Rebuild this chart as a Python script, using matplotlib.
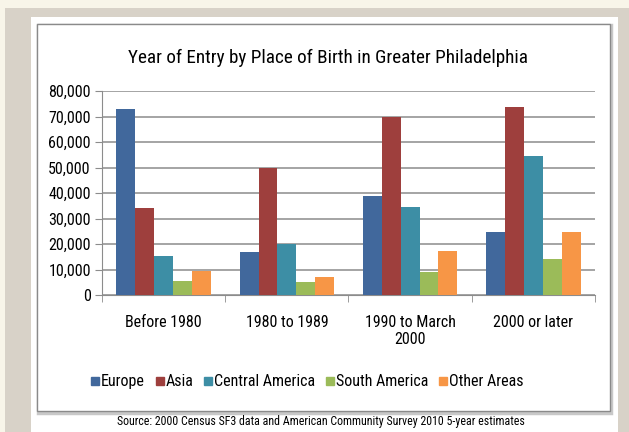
import matplotlib
matplotlib.use("Agg")
import matplotlib.pyplot as plt
from matplotlib.patches import Rectangle
from matplotlib.lines import Line2D
import numpy as np

# Arial Narrow is not around, a condensed sans is the closest
plt.rcParams['font.family'] = ['Roboto Condensed', 'PT Sans Narrow', 'DejaVu Sans']

categories = ["Before 1980", "1980 to 1989", "1990 to March\n2000", "2000 or later"]
series = ["Europe", "Asia", "Central America", "South America", "Other Areas"]
europe = [73000, 17000, 38800, 24800]
asia = [34000, 49700, 69700, 73800]
central_america = [15300, 20200, 34600, 54500]
south_america = [5500, 5000, 9100, 14100]
other_areas = [9500, 7200, 17200, 24800]
values = [europe, asia, central_america, south_america, other_areas]
colors = ['#41689c', '#9e3f3d', '#3d8ea5', '#9bbb59', '#f79646']

fig = plt.figure(figsize=(6.29, 4.32), dpi=100)
fig.patch.set_facecolor('#f8f5e9')

# frame / background layers
fig.patches.append(Rectangle((0.008, 0), 0.992, 0.9815, transform=fig.transFigure,
                             facecolor='#d8d2c8', edgecolor='none', zorder=-3))
fig.patches.append(Rectangle((0.0493, 0), 0.9332, 0.9606, transform=fig.transFigure,
                             facecolor='white', edgecolor='none', zorder=-2))
fig.patches.append(Rectangle((0.0605, 0.045), 0.911, 0.896, transform=fig.transFigure,
                             facecolor='none', edgecolor='#c8c8c8', lw=2.5, zorder=-1))
fig.patches.append(Rectangle((0.0588, 0.0486), 0.911, 0.8954, transform=fig.transFigure,
                             facecolor='white', edgecolor='#8a8a8a', lw=1, zorder=-1))

ax = fig.add_axes([0.162, 0.317, 0.784, 0.472])
ax.set_facecolor('none')

x = np.arange(len(categories))
w = 0.153
for i, (name, vals) in enumerate(zip(series, values)):
    ax.bar(x + (i - 2) * w, vals, w, color=colors[i], label=name, zorder=3)

ax.set_xlim(-0.5, len(categories) - 0.5)
ax.set_ylim(0, 80000)
ax.set_yticks(np.arange(0, 80001, 10000))
ax.set_yticklabels([f"{v:,}" for v in range(0, 80001, 10000)], fontsize=11.5)
ax.yaxis.grid(True, color='#8c8c8c', lw=1.1, zorder=0)
ax.set_xticks(x)
ax.set_xticklabels(categories, fontsize=11.5, linespacing=1.15)
ax.set_xticks(np.arange(-0.5, len(categories), 1), minor=True)
ax.tick_params(axis='x', which='major', length=0, pad=14.5)
ax.tick_params(axis='x', which='minor', length=5, color='#8c8c8c', direction='out')
ax.tick_params(axis='y', length=5, color='#8c8c8c', pad=3)
for s in ['top', 'right']:
    ax.spines[s].set_visible(False)
for s in ['left', 'bottom']:
    ax.spines[s].set_color('#8c8c8c')

fig.text(0.522, 0.866, "Year of Entry by Place of Birth in Greater Philadelphia",
         ha='center', va='center', fontsize=13.8)

handles = [Line2D([], [], marker='s', ls='none', color=c, markersize=6) for c in colors]
fig.legend(handles, series, loc='center', bbox_to_anchor=(0.488, 0.116), ncol=5,
           frameon=False, fontsize=11.5, handlelength=0.6, handletextpad=0.05,
           columnspacing=0.65)

fig.text(0.51, 0.025,
         "Source: 2000 Census SF3 data and American Community Survey 2010 5-year estimates",
         ha='center', va='center', fontsize=8.6)

plt.savefig('out.png', dpi=100, facecolor=fig.get_facecolor())
